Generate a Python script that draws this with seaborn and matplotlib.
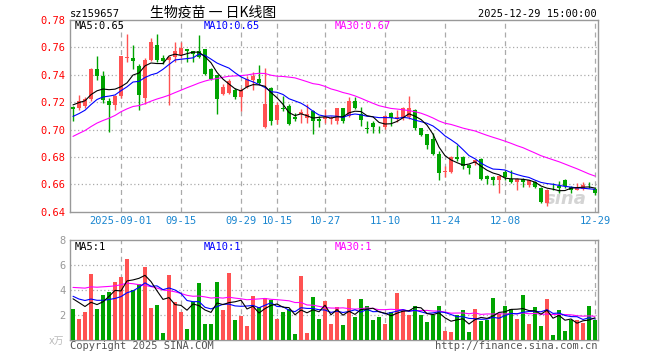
import numpy as np
import pandas as pd
import matplotlib
matplotlib.use("Agg")
import matplotlib.pyplot as plt
import seaborn as sns

# daily candles, 2025-08-20 .. 2025-12-29 (88 trading days)
open_ = [0.7168, 0.7155, 0.7175, 0.7225, 0.7445, 0.7390, 0.7210, 0.7180, 0.7245, 0.7525,
         0.7525, 0.7465, 0.7230, 0.7510, 0.7615, 0.7520, 0.7506, 0.7530, 0.7545, 0.7587,
         0.7574, 0.7572, 0.7587, 0.7444, 0.7395, 0.7260, 0.7267, 0.7292, 0.7236, 0.7309,
         0.7360, 0.7371, 0.7015, 0.7302, 0.7071, 0.7160, 0.7174, 0.7095, 0.7110, 0.7085,
         0.7137, 0.7076, 0.7076, 0.7076, 0.7060, 0.7155, 0.7101, 0.7211, 0.7113, 0.7010,
         0.7045, 0.7012, 0.7015, 0.7120, 0.7078, 0.7081, 0.7089, 0.7145, 0.7008, 0.6966,
         0.6933, 0.6825, 0.6690, 0.6688, 0.6800, 0.6800, 0.6740, 0.6756, 0.6786, 0.6663,
         0.6653, 0.6634, 0.6688, 0.6639, 0.6614, 0.6639, 0.6597, 0.6615, 0.6573, 0.6467,
         0.6582, 0.6585, 0.6634, 0.6580, 0.6560, 0.6565, 0.6590, 0.6568]
high = [0.7170, 0.7255, 0.7235, 0.7450, 0.7540, 0.7430, 0.7230, 0.7250, 0.7540, 0.7695,
        0.7620, 0.7480, 0.7520, 0.7665, 0.7700, 0.7545, 0.7535, 0.7641, 0.7641, 0.7590,
        0.7575, 0.7690, 0.7590, 0.7450, 0.7400, 0.7330, 0.7370, 0.7300, 0.7300, 0.7390,
        0.7420, 0.7470, 0.7450, 0.7310, 0.7200, 0.7243, 0.7190, 0.7120, 0.7150, 0.7186,
        0.7145, 0.7100, 0.7150, 0.7100, 0.7160, 0.7160, 0.7236, 0.7236, 0.7162, 0.7064,
        0.7064, 0.7027, 0.7106, 0.7125, 0.7145, 0.7162, 0.7245, 0.7150, 0.7010, 0.6970,
        0.6977, 0.6842, 0.6732, 0.6805, 0.6884, 0.6805, 0.6745, 0.6781, 0.6790, 0.6670,
        0.6658, 0.6665, 0.6707, 0.6702, 0.6645, 0.6645, 0.6635, 0.6625, 0.6580, 0.6565,
        0.6609, 0.6622, 0.6640, 0.6585, 0.6610, 0.6615, 0.6615, 0.6580]
low = [0.7065, 0.7140, 0.7160, 0.7210, 0.7365, 0.7195, 0.6980, 0.7145, 0.7230, 0.7495,
       0.7440, 0.7140, 0.7185, 0.7500, 0.7490, 0.7480, 0.7179, 0.7495, 0.7520, 0.7495,
       0.7493, 0.7525, 0.7400, 0.7360, 0.7113, 0.7250, 0.7260, 0.7225, 0.7137, 0.7300,
       0.7290, 0.7330, 0.7010, 0.7030, 0.7039, 0.7137, 0.7030, 0.7064, 0.7051, 0.7051,
       0.6965, 0.7015, 0.7051, 0.7039, 0.7040, 0.7050, 0.7090, 0.7150, 0.7027, 0.6978,
       0.6978, 0.6978, 0.7003, 0.7027, 0.7052, 0.7071, 0.7080, 0.7000, 0.6950, 0.6855,
       0.6815, 0.6634, 0.6653, 0.6680, 0.6770, 0.6715, 0.6678, 0.6740, 0.6634, 0.6604,
       0.6597, 0.6535, 0.6634, 0.6610, 0.6555, 0.6580, 0.6580, 0.6573, 0.6462, 0.6442,
       0.6560, 0.6536, 0.6573, 0.6540, 0.6555, 0.6555, 0.6575, 0.6523]
close = [0.7150, 0.7205, 0.7225, 0.7445, 0.7390, 0.7215, 0.7180, 0.7245, 0.7535, 0.7530,
         0.7500, 0.7255, 0.7505, 0.7640, 0.7510, 0.7500, 0.7530, 0.7574, 0.7592, 0.7575,
         0.7555, 0.7530, 0.7407, 0.7371, 0.7223, 0.7309, 0.7351, 0.7236, 0.7292, 0.7371,
         0.7390, 0.7341, 0.7186, 0.7064, 0.7180, 0.7150, 0.7039, 0.7076, 0.7130, 0.7110,
         0.7064, 0.7066, 0.7095, 0.7085, 0.7155, 0.7064, 0.7211, 0.7155, 0.7071, 0.7005,
         0.7022, 0.7008, 0.7096, 0.7081, 0.7089, 0.7155, 0.7155, 0.7008, 0.6958, 0.6885,
         0.6825, 0.6683, 0.6697, 0.6800, 0.6786, 0.6737, 0.6720, 0.6776, 0.6641, 0.6641,
         0.6634, 0.6658, 0.6653, 0.6614, 0.6639, 0.6617, 0.6629, 0.6580, 0.6474, 0.6560,
         0.6578, 0.6575, 0.6585, 0.6560, 0.6580, 0.6595, 0.6585, 0.6540]
# volume, 万手
volume = [2.48, 1.68, 2.24, 5.28, 2.48, 3.60, 3.84, 4.64, 5.07, 6.48,
          4.00, 4.48, 5.84, 2.56, 2.80, 0.56, 5.20, 3.04, 2.24, 0.88,
          3.04, 4.56, 1.28, 1.28, 4.64, 2.40, 5.36, 1.60, 1.92, 1.12,
          3.52, 2.64, 3.36, 3.20, 1.68, 2.24, 2.48, 0.48, 5.12, 0.56,
          3.44, 1.68, 3.12, 1.28, 2.64, 1.20, 3.28, 1.84, 3.28, 2.72,
          1.60, 1.84, 1.28, 2.24, 3.76, 2.40, 2.00, 2.72, 2.00, 1.44,
          2.00, 2.72, 0.72, 0.64, 2.00, 2.40, 0.64, 2.48, 1.52, 1.60,
          3.36, 2.08, 2.72, 2.48, 1.68, 3.60, 1.28, 2.64, 1.12, 3.28,
          0.40, 2.40, 0.72, 1.60, 1.60, 1.36, 2.72, 1.60]

# sessions before 08-20, estimated from where the MA lines start; only used for the averages
prev_close = [0.655, 0.660, 0.658, 0.662, 0.665, 0.668, 0.664, 0.672,
              0.690, 0.698, 0.705, 0.710, 0.708, 0.704, 0.7105,
              0.708, 0.702, 0.706, 0.703, 0.7055,
              0.700, 0.698, 0.703, 0.702, 0.703,
              0.712, 0.716, 0.722, 0.725]
prev_volume = [2.5, 3.1, 2.2, 3.4, 2.6, 2.9, 3.3, 2.4, 2.8,
               5.2, 6.8, 7.4, 5.6, 6.3, 5.1, 6.9, 5.8, 6.2, 5.4, 5.3,
               3.9, 3.4, 4.1, 3.5, 3.6,
               3.2, 3.8, 3.6, 3.4]

tick_dates = ["2025-09-01", "2025-09-15", "2025-09-29", "2025-10-15", "2025-10-27",
              "2025-11-10", "2025-11-24", "2025-12-08", "2025-12-29"]
tick_labels = ["2025-09-01", "09-15", "09-29", "10-15", "10-27", "11-10", "11-24", "12-08", "12-29"]

days = pd.bdate_range("2025-08-20", "2025-12-29")
days = days[~days.isin(pd.date_range("2025-10-01", "2025-10-08"))]

df = pd.DataFrame({"date": days, "open": open_, "high": high, "low": low,
                   "close": close, "vol": volume})
df["x"] = np.arange(len(df))
n0 = len(prev_close)
allc = pd.Series(prev_close + close)
allv = pd.Series(prev_volume + volume)
for n in (5, 10, 30):
    df[f"ma{n}"] = allc.rolling(n).mean().iloc[n0:].to_numpy()
    df[f"vma{n}"] = allv.rolling(n).mean().iloc[n0:].to_numpy()

up = df["close"] >= df["open"]
RED, GREEN = "#ff5252", "#00a400"
colors = np.where(up, RED, GREEN)
xt = [days.get_loc(pd.Timestamp(d)) for d in tick_dates]

sns.set_theme(style="white")
plt.rcParams["font.family"] = ["DejaVu Sans Mono", "Noto Sans CJK SC"]
plt.rcParams["font.size"] = 7

W, H = 660, 360
fig = plt.figure(figsize=(6.6, 3.6), dpi=100)
ax1 = fig.add_axes([70 / W, 1 - 211.7 / H, 528 / W, 191.7 / H])
ax2 = fig.add_axes([70 / W, 1 - 340 / H, 528 / W, 100 / H])

#################################
# price panel
ax1.vlines(df["x"], df["low"], df["high"], colors=colors, lw=1, zorder=2)
body = (df["close"] - df["open"]).abs().clip(lower=0.0004)
ax1.bar(df["x"], body, bottom=df[["open", "close"]].min(axis=1), width=0.8,
        color=colors, lw=0, zorder=3)
for col, c in (("ma30", "#ff00ff"), ("ma10", "#0000ff"), ("ma5", "black")):
    sns.lineplot(data=df, x="x", y=col, ax=ax1, color=c, lw=0.8, zorder=4)

ax1.set_xlim(-0.5, len(df) - 0.5)
ax1.set_ylim(0.64, 0.78)
ax1.set_yticks(np.arange(0.64, 0.781, 0.02))
ax1.set_yticklabels([f"{v:.2f}" for v in np.arange(0.64, 0.781, 0.02)], color="red", fontsize=7.5)
ax1.set_xticks(xt)
ax1.set_xticklabels(tick_labels, color="#1a86d0", fontsize=7.5)
ax1.tick_params(length=0, pad=3)
ax1.set_xlabel("")
ax1.set_ylabel("")
for v in np.arange(0.66, 0.77, 0.02):
    ax1.axhline(v, color="#aaaaaa", ls=(0, (1, 2)), lw=0.9, zorder=1)
for t in xt:
    ax1.axvline(t, color="#aaaaaa", ls=(0, (4, 3)), lw=0.9, zorder=1)
ax1.text(0.90, 0.04, "sina", transform=ax1.transAxes, color="#d4d4d4",
         fontsize=13, fontstyle="italic", fontweight="bold", family="DejaVu Sans", zorder=1)

#################################
# volume panel
ax2.bar(df["x"], df["vol"], width=0.8, color=colors, lw=0, zorder=3)
for col, c in (("vma30", "#ff00ff"), ("vma10", "#0000ff"), ("vma5", "black")):
    sns.lineplot(data=df, x="x", y=col, ax=ax2, color=c, lw=0.8, zorder=4)
ax2.set_xlim(-0.5, len(df) - 0.5)
ax2.set_ylim(0, 8)
ax2.set_yticks([2, 4, 6, 8])
ax2.set_yticklabels(["2", "4", "6", "8"], color="#999999", fontsize=7.5)
ax2.set_xticks([])
ax2.tick_params(length=0, pad=3)
ax2.set_xlabel("")
ax2.set_ylabel("")
for v in (2, 4, 6):
    ax2.axhline(v, color="#aaaaaa", ls=(0, (1, 2)), lw=0.9, zorder=1)
for t in xt:
    ax2.axvline(t, color="#aaaaaa", ls=(0, (4, 3)), lw=0.9, zorder=1)

for ax in (ax1, ax2):
    for s in ax.spines.values():
        s.set_color("#999999")
        s.set_linewidth(1)

#################################
# texts
def ftext(x, y, s, **kw):
    fig.text(x / W, 1 - y / H, s, va="center", **kw)

ftext(70, 14, "sz159657", ha="left", color="black", fontsize=7.5)
ftext(213, 13, "生物疫苗 一 日K线图", ha="center", color="black", fontsize=10,
      family=["Noto Sans CJK SC", "DejaVu Sans"])
ftext(597, 14, "2025-12-29 15:00:00", ha="right", color="black", fontsize=7.5)
ftext(75, 26, "MA5:0.65", ha="left", color="black", fontsize=7.5)
ftext(204, 26, "MA10:0.65", ha="left", color="#0000ff", fontsize=7.5)
ftext(335, 26, "MA30:0.67", ha="left", color="#ff00ff", fontsize=7.5)
ftext(75, 247, "MA5:1", ha="left", color="black", fontsize=7.5)
ftext(204, 247, "MA10:1", ha="left", color="#0000ff", fontsize=7.5)
ftext(335, 247, "MA30:1", ha="left", color="#ff00ff", fontsize=7.5)
ftext(64, 341, "x万", ha="right", color="#bbbbbb", fontsize=7,
      family=["DejaVu Sans", "Noto Sans CJK SC"])
ftext(70, 346, "Copyright 2025 SINA.COM", ha="left", color="#555555", fontsize=7.5)
ftext(597, 346, "http://finance.sina.com.cn", ha="right", color="#555555", fontsize=7.5)

fig.savefig("out.png", dpi=100)
